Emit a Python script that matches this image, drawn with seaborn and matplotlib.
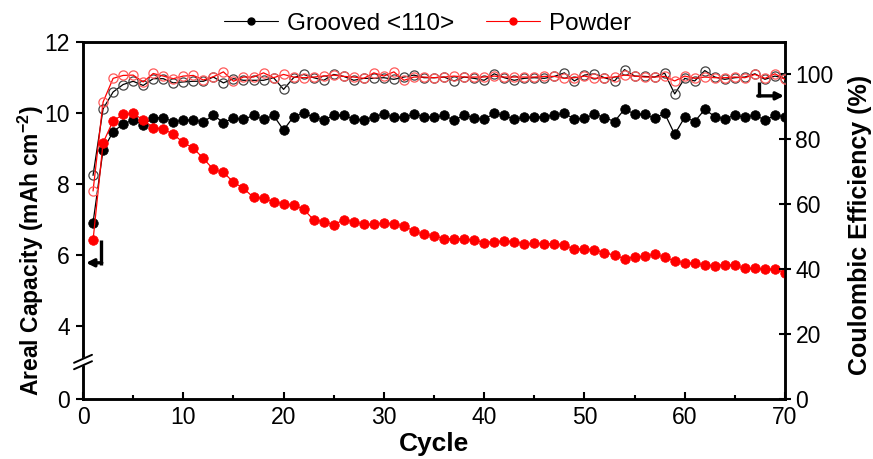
import numpy as np
import pandas as pd
import matplotlib
matplotlib.use("Agg")
import matplotlib.pyplot as plt
from matplotlib.lines import Line2D
import seaborn as sns

# ---- data -------------------------------------------------------------
cycles = list(range(1, 71))

grooved_capacity = [
    6.91, 8.96, 9.47, 9.69, 9.80, 9.66, 9.87, 9.87, 9.75, 9.80,
    9.80, 9.75, 9.94, 9.73, 9.85, 9.82, 9.93, 9.82, 9.93, 9.52,
    9.90, 9.99, 9.89, 9.80, 9.93, 9.94, 9.82, 9.80, 9.90, 9.97,
    9.88, 9.88, 9.96, 9.90, 9.88, 9.93, 9.80, 9.93, 9.87, 9.82,
    9.99, 9.93, 9.82, 9.88, 9.88, 9.90, 9.94, 9.99, 9.83, 9.85,
    9.97, 9.87, 9.76, 10.11, 9.97, 9.96, 9.85, 9.99, 9.40, 9.88,
    9.76, 10.10, 9.90, 9.83, 9.94, 9.88, 9.94, 9.80, 9.93, 9.90,
]

powder_capacity = [
    6.42, 9.16, 9.78, 9.96, 9.99, 9.80, 9.59, 9.55, 9.40, 9.17,
    9.01, 8.72, 8.41, 8.33, 8.05, 7.88, 7.62, 7.60, 7.50, 7.44,
    7.41, 7.29, 6.99, 6.94, 6.85, 6.99, 6.94, 6.86, 6.86, 6.91,
    6.87, 6.82, 6.67, 6.58, 6.54, 6.46, 6.46, 6.45, 6.42, 6.35,
    6.38, 6.39, 6.38, 6.31, 6.33, 6.32, 6.32, 6.28, 6.16, 6.18,
    6.14, 6.07, 5.99, 5.90, 5.94, 5.97, 6.02, 5.94, 5.83, 5.78,
    5.77, 5.72, 5.70, 5.73, 5.71, 5.62, 5.62, 5.60, 5.60, 5.50,
]

grooved_ce = [
    68.9, 89.4, 94.6, 96.9, 97.9, 96.6, 98.7, 98.7, 97.4, 97.7,
    97.9, 97.9, 99.2, 97.4, 98.7, 98.2, 98.2, 98.2, 99.0, 95.4,
    99.0, 100.0, 99.0, 98.2, 100.0, 99.4, 98.2, 98.8, 98.8, 99.0,
    98.5, 99.2, 99.8, 99.0, 99.0, 99.2, 98.0, 99.2, 98.8, 98.2,
    100.2, 99.0, 98.2, 98.8, 99.0, 98.8, 99.4, 100.5, 98.0, 99.8,
    100.2, 99.0, 98.0, 101.5, 99.5, 99.4, 99.2, 100.4, 94.0, 98.8,
    98.0, 101.2, 99.2, 98.5, 99.0, 99.2, 100.2, 98.5, 99.5, 98.8,
]

powder_ce = [
    64.1, 91.5, 98.8, 99.7, 99.8, 97.7, 100.3, 99.5, 98.7, 99.5,
    99.7, 98.3, 99.3, 100.8, 97.9, 99.2, 99.2, 100.5, 99.0, 100.0,
    99.2, 99.0, 99.2, 99.5, 99.8, 99.4, 99.2, 98.8, 100.5, 99.5,
    100.8, 98.2, 99.2, 99.2, 99.0, 99.2, 99.5, 99.2, 99.2, 99.2,
    99.5, 99.2, 99.2, 99.2, 99.2, 99.4, 99.4, 98.8, 99.0, 99.5,
    98.8, 99.0, 99.2, 99.8, 99.5, 99.2, 99.2, 99.4, 98.0, 99.5,
    98.8, 99.2, 99.0, 99.0, 99.2, 99.0, 100.0, 98.8, 100.2, 98.5,
]

series_names = ["Grooved <110>", "Powder"]
series_colors = ["black", "#ff0000"]
ce_edge_colors = ["#444444", "#ff5a5a"]

capacity_ticks = [0, 4, 6, 8, 10, 12]
ce_ticks = [0, 20, 40, 60, 80, 100]
cycle_ticks = [0, 10, 20, 30, 40, 50, 60, 70]

# ---- style ------------------------------------------------------------
sns.set_theme(style="ticks")
plt.rcParams["font.family"] = ["Liberation Sans", "DejaVu Sans"]
plt.rcParams["mathtext.fontset"] = "custom"
plt.rcParams["mathtext.rm"] = "Liberation Sans"
plt.rcParams["mathtext.bf"] = "Liberation Sans:bold"
plt.rcParams["text.color"] = "black"
plt.rcParams["axes.labelcolor"] = "black"

fig = plt.figure(figsize=(8.73, 4.59), dpi=100)
ax = fig.add_axes([0.0951, 0.1307, 0.8041, 0.7778])
ax2 = ax.twinx()

# compressed segment below 4 on the capacity axis (broken axis)
K = 73.0 / 142.0


def fwd(y):
    y = np.asarray(y, dtype=float)
    return np.where(y >= 4, y, 4 - (4 - y) * K)


def inv(y):
    y = np.asarray(y, dtype=float)
    return np.where(y >= 4, y, 4 - (4 - y) / K)


ax.set_yscale("function", functions=(fwd, inv))

cap_df = pd.DataFrame({
    "Cycle": cycles * 2,
    "Capacity": grooved_capacity + powder_capacity,
    "CE": grooved_ce + powder_ce,
    "Sample": [series_names[0]] * len(cycles) + [series_names[1]] * len(cycles),
})

for name, col, ce_col in zip(series_names, series_colors, ce_edge_colors):
    sub = cap_df[cap_df["Sample"] == name]
    sns.lineplot(data=sub, x="Cycle", y="Capacity", ax=ax, color=col,
                 lw=0.9, marker="o", markersize=6.9,
                 markerfacecolor=col, markeredgecolor=col,
                 markeredgewidth=0.5, legend=False, zorder=3)
    sns.lineplot(data=sub, x="Cycle", y="CE", ax=ax2, color=col,
                 lw=0.9, marker="o", markersize=6.6,
                 markerfacecolor="none", markeredgecolor=ce_col,
                 markeredgewidth=0.9, legend=False, zorder=3)

# ---- axes -------------------------------------------------------------
ax.set_xlim(0, 70)
ax.set_ylim(0, 12)
ax2.set_ylim(0, 110)

ax.set_xticks(cycle_ticks)
ax.set_xticks([5, 15, 25, 35, 45, 55, 65], minor=True)
ax.set_yticks(capacity_ticks)
ax.set_yticklabels([str(t) for t in capacity_ticks])
ax.yaxis.set_minor_locator(matplotlib.ticker.NullLocator())
ax2.set_yticks(ce_ticks)

tick_fs = 16.5
ax.tick_params(axis="x", which="major", direction="in", length=5, width=1.5,
               labelsize=tick_fs, pad=5, colors="black", top=False)
ax.tick_params(axis="x", which="minor", direction="in", length=3, width=1.5,
               top=False, bottom=True, colors="black")
ax.tick_params(axis="y", which="major", direction="out", length=5, width=1.5,
               labelsize=tick_fs, pad=4.5, colors="black")
ax2.tick_params(axis="y", which="major", direction="inout", length=8, width=1.5,
                labelsize=tick_fs, pad=3.5, colors="black")

for a in (ax, ax2):
    for s in a.spines.values():
        s.set_linewidth(1.8)
        s.set_color("black")
        s.set_visible(True)

ax.set_xlabel("Cycle", fontsize=19, fontweight="bold", color="black")
ax.set_ylabel("Areal Capacity (mAh cm$^{\\mathbf{-2}}$)", fontsize=16.5,
              fontweight="bold", color="black")
ax2.set_ylabel("Coulombic Efficiency (%)", fontsize=18, fontweight="bold",
               color="black")
ax.xaxis.set_label_coords(0.5, -0.093)
ax.yaxis.set_label_coords(-0.053, 0.415)
ax2.yaxis.set_label_coords(1.09, 0.487)

# ---- axis-direction arrows -------------------------------------------
ax.plot([1.75, 1.75], [6.42, 5.72], color="black", lw=2.4,
        solid_capstyle="butt", zorder=5, clip_on=False)
ax.annotate("", xy=(0.3, 5.78), xytext=(1.87, 5.78),
            arrowprops=dict(arrowstyle="-|>", color="black", lw=2.4,
                            mutation_scale=11, shrinkA=0, shrinkB=0),
            zorder=5)
ax2.plot([67.4, 67.4], [97.6, 93.0], color="black", lw=2.4,
         solid_capstyle="butt", zorder=5, clip_on=False)
ax2.annotate("", xy=(69.9, 93.4), xytext=(67.28, 93.4),
             arrowprops=dict(arrowstyle="-|>", color="black", lw=2.4,
                             mutation_scale=11, shrinkA=0, shrinkB=0),
             zorder=5)

# ---- break marks on the capacity axis ---------------------------------
cx, cy = 0.0, 0.1036
dx, dy, gap = 0.0128, 0.0112, 0.0090
poly_x = [cx - dx, cx + dx, cx + dx, cx - dx]
poly_y = [cy - dy - gap, cy + dy - gap, cy + dy + gap, cy - dy + gap]
ax2.fill(poly_x, poly_y, color="white", transform=ax2.transAxes,
         clip_on=False, zorder=10)
for off in (-gap, gap):
    ax2.plot([cx - dx, cx + dx], [cy - dy + off, cy + dy + off],
             color="black", lw=1.4, transform=ax2.transAxes,
             clip_on=False, zorder=11)

# ---- legend -----------------------------------------------------------
handles = [Line2D([], [], color=c, lw=0.8, marker="o", markersize=5,
                  markerfacecolor=c, markeredgecolor=c)
           for c in series_colors]
fig.legend(handles, series_names, loc="upper center",
           bbox_to_anchor=(0.49, 1.02), ncol=2, frameon=False,
           fontsize=17.5, handlelength=2.2, columnspacing=1.3,
           handletextpad=0.4)

fig.savefig("out.png", dpi=100)
